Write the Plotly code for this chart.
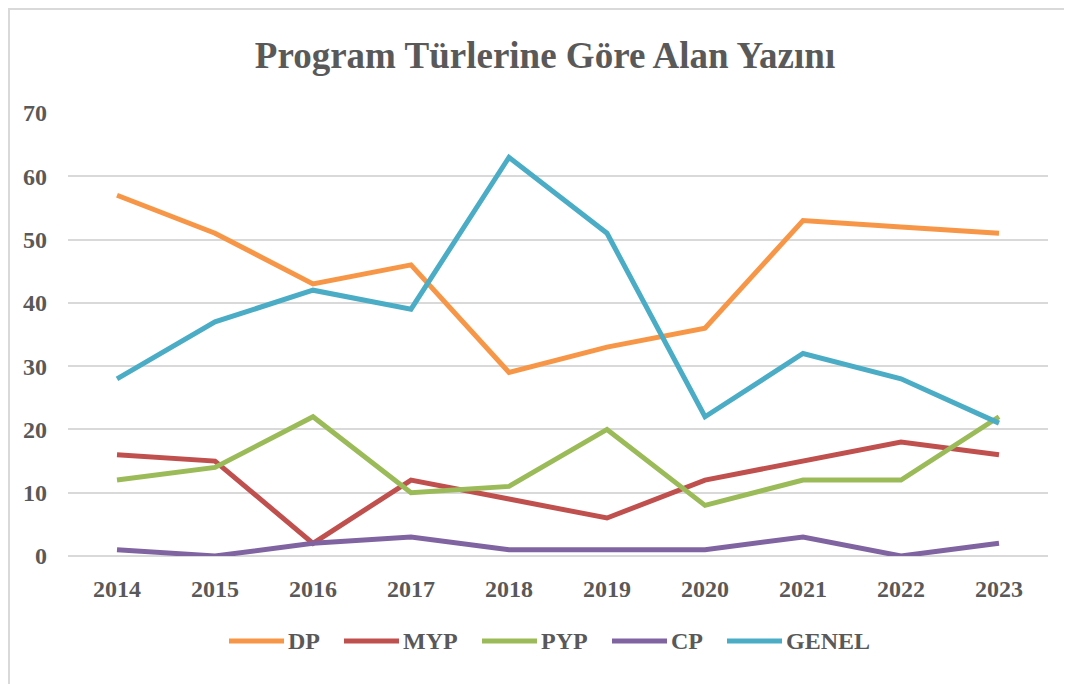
import plotly.graph_objects as go

years = ["2014", "2015", "2016", "2017", "2018", "2019", "2020", "2021", "2022", "2023"]
dp = [57, 51, 43, 46, 29, 33, 36, 53, 52, 51]
myp = [16, 15, 2, 12, 9, 6, 12, 15, 18, 16]
pyp = [12, 14, 22, 10, 11, 20, 8, 12, 12, 22]
cp = [1, 0, 2, 3, 1, 1, 1, 3, 0, 2]
genel = [28, 37, 42, 39, 63, 51, 22, 32, 28, 21]

series_names = ["DP", "MYP", "PYP", "CP", "GENEL"]
series_values = [dp, myp, pyp, cp, genel]
series_colors = ["#F79646", "#C0504D", "#9BBB59", "#8064A2", "#4BACC6"]

font_family = "Liberation Serif"
text_color = "#595959"

# figure sized so that, with the page's 8px body margin, it fills the 1072x684 window exactly
W, H = 1064, 676
ML, MT = 60, 105
PW, PH = 980, 443

fig = go.Figure()
for name, vals, color in zip(series_names, series_values, series_colors):
    fig.add_trace(go.Scatter(
        x=years, y=vals, name=name, mode="lines",
        line=dict(color=color, width=5, shape="linear"),
    ))

fig.update_layout(
    width=W, height=H,
    paper_bgcolor="white", plot_bgcolor="white",
    margin=dict(l=ML, r=W - ML - PW, t=MT, b=H - MT - PH),
    title=dict(
        text="<b>Program Türlerine Göre Alan Yazını</b>",
        x=(537) / W, xanchor="center", xref="container",
        y=1 - 47 / H, yanchor="middle", yref="container",
        font=dict(family=font_family, size=37, color=text_color),
    ),
    font=dict(family=font_family, color=text_color),
    showlegend=False,
)

fig.update_xaxes(
    type="category", range=[-0.5, 9.5],
    showgrid=False, showline=False, zeroline=False, ticks="",
    tickfont=dict(family=font_family, size=24, color=text_color, weight="bold"),
    ticklabelstandoff=16,
)
fig.update_yaxes(
    range=[0, 70], dtick=10, tick0=0,
    showgrid=True, gridcolor="#d9d9d9", gridwidth=1.5,
    zeroline=True, zerolinecolor="#d9d9d9", zerolinewidth=1.5,
    showline=False, ticks="",
    tickfont=dict(family=font_family, size=24, color=text_color, weight="bold"),
    ticklabelstandoff=20,
)

# chart-area border: only its top and left edges are inside the picture
bx0 = (-ML + 1) / PW
by1 = 1 + (MT - 1) / PH
by0 = -(H - MT - PH + 20) / PH
bx1 = 1 + (W - ML - PW + 20) / PW
fig.add_shape(
    type="path", xref="paper", yref="paper",
    path=f"M {bx0},{by0} L {bx0},{by1} L {bx1},{by1}",
    line=dict(color="#d9d9d9", width=2), layer="below",
)

# legend drawn as line samples + text, bottom centre
legend_x_px = [221, 336, 474, 604, 719]   # left of each sample line (figure px)
legend_y_px = 633
line_len = 55
ly = 1 - (legend_y_px - MT) / PH
for name, color, lx in zip(series_names, series_colors, legend_x_px):
    fig.add_shape(
        type="line", xref="paper", yref="paper",
        x0=(lx - ML) / PW, x1=(lx + line_len - ML) / PW, y0=ly, y1=ly,
        line=dict(color=color, width=5),
    )
    fig.add_annotation(
        xref="paper", yref="paper", x=(lx + line_len + 2 - ML) / PW, y=ly,
        xanchor="left", yanchor="middle", showarrow=False,
        text=f"<b>{name}</b>",
        font=dict(family=font_family, size=24, color=text_color),
    )

fig.write_html("out.html")
